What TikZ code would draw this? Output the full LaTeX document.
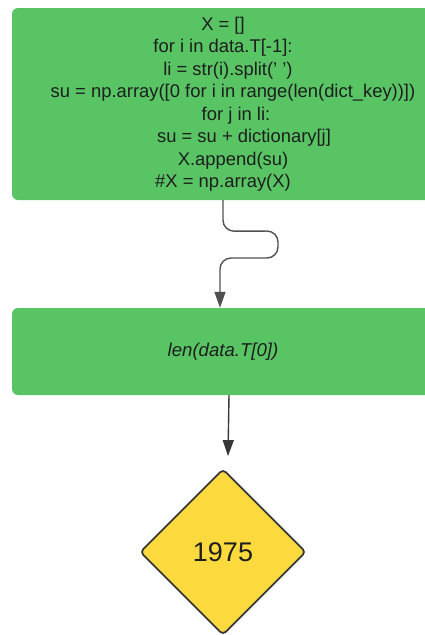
\documentclass[tikz,border=0pt]{standalone}
\usepackage{fontspec}
\setmainfont{Liberation Sans}[Ligatures=ResetAll]
\usetikzlibrary{shapes.geometric,arrows.meta,calc}
\definecolor{stepgreen}{HTML}{58C464}
\definecolor{decyellow}{HTML}{FCD93C}
\definecolor{inkgray}{HTML}{1E1E1E}
\definecolor{linegray}{HTML}{505050}
\definecolor{edgegray}{HTML}{383838}
\begin{document}
\begin{tikzpicture}[x=1pt,y=1pt,
  codebox/.style={rectangle, rounded corners=6pt, fill=stepgreen, text=inkgray,
    align=center, inner sep=0pt},
  decision/.style={diamond, rounded corners=4pt, fill=decyellow, draw=edgegray,
    line width=1.8pt, inner sep=0pt, minimum width=166pt, minimum height=166pt,
    text=inkgray, font=\fontsize{27}{30}\selectfont},
  flow/.style={draw=linegray, line width=1.4pt,
    -{Triangle[length=16pt,width=11pt]}}]
\useasboundingbox (0,0) rectangle (424,-635);

% code block
\node[codebox, minimum width=422pt, minimum height=192pt,
      font=\fontsize{18.4}{22.5}\selectfont] (code) at (223,-104)
  {X = []\\
   for i in data.T[-1]:\\
   \hspace*{10pt}li = str(i).split(' ')\\
   \hspace*{20pt}su = np.array([0 for i in range(len(dict\_key))])\\
   \hspace*{26pt}for j in li:\\
   \hspace*{42pt}su = su + dictionary[j]\\
   \hspace*{20pt}X.append(su)\\
   \#X = np.array(X)};

% length step
\node[codebox, minimum width=422pt, minimum height=87pt,
      font=\fontsize{18.6}{22}\selectfont\itshape] (lenbox) at (223,-351.5)
  {len(data.T[0])};

% result
\node[decision] (dec) at (223,-552) {1975};

% connectors
\draw[flow, rounded corners=11pt] (code.south) -- ++(0,-31) -- (278,-231)
  -- (278,-258) -- (220,-258) -- ($(lenbox.north)+(-3,0)$);
\draw[flow, draw=edgegray] ($(lenbox.south)+(6,0)$) -- ($(dec.north)+(5,12)$);
\end{tikzpicture}
\end{document}
